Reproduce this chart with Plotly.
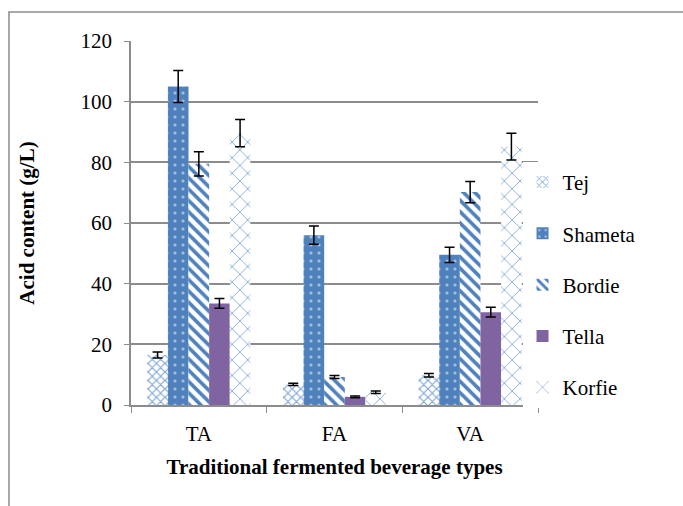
import plotly.graph_objects as go

categories = ["TA", "FA", "VA"]
series_names = ["Tej", "Shameta", "Bordie", "Tella", "Korfie"]
tej = [16.5, 6.8, 9.8]
shameta = [105.0, 56.0, 49.5]
bordie = [79.5, 9.2, 70.2]
tella = [33.5, 2.7, 30.6]
korfie = [89.6, 4.2, 85.2]
tej_err = [1.0, 0.4, 0.6]
shameta_err = [5.3, 3.0, 2.5]
bordie_err = [4.0, 0.5, 3.5]
tella_err = [1.6, 0.3, 1.6]
korfie_err = [4.5, 0.4, 4.4]

values = [tej, shameta, bordie, tella, korfie]
errors = [tej_err, shameta_err, bordie_err, tella_err, korfie_err]

BLUE = "#4F81BD"
LIGHT = "#7FA6D6"
PURPLE = "#8064A2"

markers = [
    dict(color=LIGHT, pattern=dict(shape="x", fgcolor=LIGHT, bgcolor="white", size=6, solidity=0.35, fillmode="replace")),
    dict(color=BLUE, pattern=dict(shape=".", fgcolor="white", size=8, solidity=0.12, fillmode="overlay")),
    dict(color=BLUE, pattern=dict(shape="\\", fgcolor=BLUE, bgcolor="white", size=8, solidity=0.45, fillmode="replace")),
    dict(color=PURPLE),
    dict(color=LIGHT, pattern=dict(shape="x", fgcolor=LIGHT, bgcolor="white", size=11, solidity=0.15, fillmode="replace")),
]

fig = go.Figure()
for i, name in enumerate(series_names):
    fig.add_trace(go.Bar(
        x=categories, y=values[i], name=name, legendgroup=name,
        marker=dict(line=dict(width=0), **markers[i]),
        error_y=dict(type="data", array=errors[i], color="black", thickness=1.5, width=5),
    ))

FF = "Liberation Serif"
grid = "#8C8C8C"

fig.update_layout(
    width=683, height=506,
    margin=dict(l=131, r=145, t=41, b=101),
    paper_bgcolor="white", plot_bgcolor="white",
    barmode="group", bargap=0.24, bargroupgap=0,
    font=dict(family=FF, size=21, color="black"),
    legend=dict(x=0.962, y=0.33, xanchor="left", yanchor="middle",
                tracegroupgap=21, traceorder="grouped",
                font=dict(family=FF, size=21, color="black"), itemwidth=30),
    xaxis=dict(showline=True, linecolor=grid, linewidth=1.5, ticks="outside",
               tickson="boundaries", ticklen=6, tickcolor=grid,
               ticklabelstandoff=9,
               tickfont=dict(family=FF, size=21, color="black"),
               title=dict(text="<b>Traditional fermented beverage types</b>",
                          font=dict(family=FF, size=21, color="black"), standoff=14)),
    yaxis=dict(range=[0, 120], dtick=20, showgrid=True, gridcolor=grid, gridwidth=1.5,
               showline=True, linecolor=grid, linewidth=1.5, ticks="outside",
               ticklen=5, tickcolor=grid, zeroline=False,
               ticklabelstandoff=8,
               tickfont=dict(family=FF, size=21, color="black"),
               title=dict(text="<b>Acid content (g/L)</b>",
                          font=dict(family=FF, size=21, color="black"), standoff=40)),
    shapes=[dict(type="rect", xref="paper", yref="paper",
                 x0=(9 - 131) / 407, x1=(720 - 131) / 407,
                 y0=(405 - 540) / 364, y1=(405 - 12) / 364,
                 line=dict(color="#8C8C8C", width=1.5), fillcolor="rgba(0,0,0,0)",
                 layer="below")],
)

fig.write_html("out.html", config={"displayModeBar": False},
               post_script="document.body.style.margin='0px';")
